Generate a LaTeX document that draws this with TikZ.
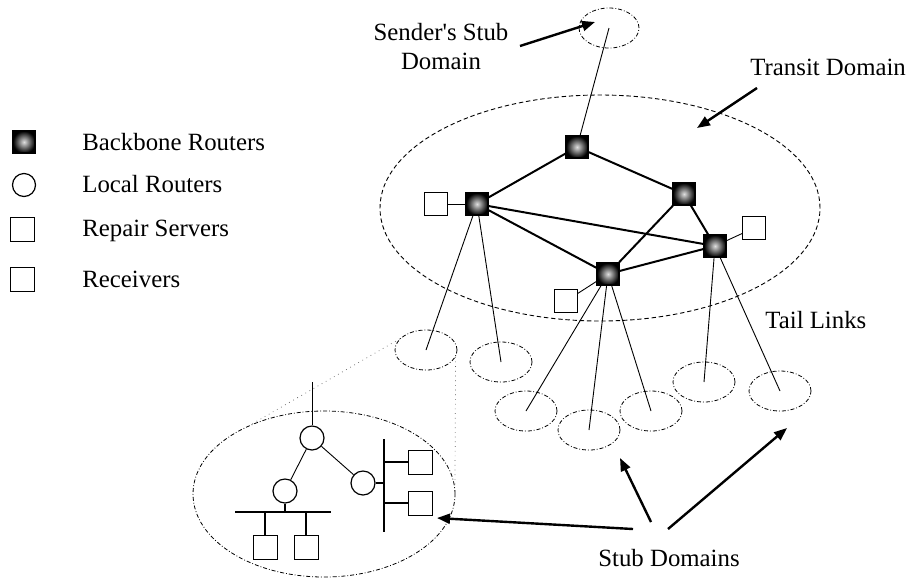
\documentclass[tikz,border=0pt]{standalone}
\usepackage{fontspec}
\setmainfont{Liberation Serif}
\usetikzlibrary{shapes.geometric,arrows.meta}
\tikzset{
  backbone/.style={rectangle, draw=black, line width=0.7pt, minimum size=11pt, inner sep=0pt, inner color=gray!25, outer color=black},
  local/.style={circle, draw, line width=0.6pt, minimum size=12pt, inner sep=0pt, fill=white},
  server/.style={rectangle, draw, line width=0.5pt, minimum size=11.5pt, inner sep=0pt, fill=white},
  stub/.style={ellipse, draw, line width=0.4pt, dash pattern=on 2pt off 1pt on 0.4pt off 1pt, minimum width=31pt, minimum height=20pt, inner sep=0pt},
  transit/.style={ellipse, draw, line width=0.45pt, dash pattern=on 2.2pt off 1.4pt, minimum width=220pt, minimum height=113pt, inner sep=0pt},
  bbedge/.style={line width=1pt},
  tail/.style={line width=0.45pt},
  bus/.style={line width=0.6pt},
  proj/.style={line width=0.35pt, dotted, gray!70!black},
  pointer/.style={line width=1.2pt, -{Triangle[length=6.5pt,width=5pt]}},
  lbl/.style={font=\fontsize{12.4}{14.5}\selectfont, inner sep=0pt}
}
\begin{document}
\begin{tikzpicture}[x=0.5pt, y=-0.5pt]
    \useasboundingbox (0,0) rectangle (908,579);

    % Legend
    \node[backbone] (keybb) at (24,142) {};
    \node[local, minimum size=11.5pt] (keylr) at (24,185) {};
    \node[server, minimum size=12pt] (keyrs) at (22,229) {};
    \node[server, minimum size=12pt] (keyrc) at (22,279) {};
    \node[lbl, anchor=base west] (keybbtxt) at (82,150) {Backbone Routers};
    \node[lbl, anchor=base west] (keylrtxt) at (82,192) {Local Routers};
    \node[lbl, anchor=base west] (keyrstxt) at (82,236) {Repair Servers};
    \node[lbl, anchor=base west] (keyrctxt) at (82,287) {Receivers};

    % Domains
    \node[transit] (transit) at (600,208) {};
    \node[stub, minimum width=30pt] (sender) at (609,28) {};
    \node[stub] (s1) at (426,350) {};
    \node[stub] (s2) at (501,362) {};
    \node[stub] (s3) at (526,411) {};
    \node[stub] (s4) at (589,430) {};
    \node[stub] (s5) at (651,411) {};
    \node[stub] (s6) at (704,382) {};
    \node[stub] (s7) at (780,391) {};
    \node[stub, minimum width=131pt, minimum height=83pt] (zoom) at (324,494) {};

    % Backbone routers and repair servers
    \node[backbone] (r1) at (577,147) {};
    \node[backbone] (r2) at (477,204) {};
    \node[backbone] (r3) at (684,194) {};
    \node[backbone] (r4) at (715,246) {};
    \node[backbone] (r5) at (608,274) {};
    \node[server] (rs2) at (436,204) {};
    \node[server] (rs4) at (754,228) {};
    \node[server] (rs5) at (566,301) {};

    % Backbone edges
    \draw[bbedge] (r1) -- (r2);
    \draw[bbedge] (r1) -- (r3);
    \draw[bbedge] (r2) -- (r4);
    \draw[bbedge] (r2) -- (r5);
    \draw[bbedge] (r3) -- (r5);
    \draw[bbedge] (r3) -- (r4);
    \draw[bbedge] (r5) -- (r4);
    \draw[tail] (rs2) -- (r2);
    \draw[tail] (rs4) -- (r4);
    \draw[tail] (rs5) -- (r5);

    % Tail links
    \draw[tail] (sender.center) -- (r1);
    \draw[tail] (r2) -- (s1.center);
    \draw[tail] (r2) -- (s2.center);
    \draw[tail] (r5) -- (s3.center);
    \draw[tail] (r5) -- (s4.center);
    \draw[tail] (r5) -- (s5.center);
    \draw[tail] (r4) -- (s6.center);
    \draw[tail] (r4) -- (s7.center);

    % Close-up of one stub domain
    \draw[proj] (s1.157) -- (zoom.137);
    \draw[proj] (s1.-13) -- (zoom.3);
    \node[local] (l1) at (312,438) {};
    \node[local] (l2) at (285,491) {};
    \node[local] (l3) at (363,483) {};
    \coordinate (up) at (312,382);
    \draw[tail] (l1) -- (up);
    \draw[tail] (l1) -- (l2);
    \draw[tail] (l1) -- (l3);
    % horizontal LAN with two receivers
    \coordinate (busa1) at (235,512);
    \coordinate (busa2) at (331,512);
    \coordinate (taa) at (265,512);
    \coordinate (tab) at (306,512);
    \node[server, minimum size=12pt] (rca) at (265,547) {};
    \node[server, minimum size=12pt] (rcb) at (306,547) {};
    \draw[bus] (busa1) -- (busa2);
    \draw[bus] (l2) -- (l2 |- busa1);
    \draw[bus] (taa) -- (rca);
    \draw[bus] (tab) -- (rcb);
    % vertical LAN with two receivers
    \coordinate (busb1) at (384,439);
    \coordinate (busb2) at (384,532);
    \coordinate (tba) at (384,462);
    \coordinate (tbb) at (384,503);
    \node[server, minimum size=12pt] (rcc) at (420,462) {};
    \node[server, minimum size=12pt] (rcd) at (420,503) {};
    \draw[bus] (busb1) -- (busb2);
    \draw[bus] (l3) -- (l3 -| busb1);
    \draw[bus] (tba) -- (rcc);
    \draw[bus] (tbb) -- (rcd);

    % Labels and pointers
    \node[lbl, align=center] (sendertxt) at (441,47) {Sender\textquotesingle s Stub\\Domain};
    \node[lbl, anchor=base west] (transittxt) at (750,75) {Transit Domain};
    \node[lbl, anchor=base west] (tailtxt) at (765,328) {Tail Links};
    \node[lbl, anchor=base west] (stubtxt) at (598,566) {Stub Domains};
    \coordinate (pa) at (520,46);   \coordinate (pat) at (595,22);
    \coordinate (pb) at (757,88);   \coordinate (pbt) at (697,128);
    \coordinate (pc) at (633,529);  \coordinate (pct) at (437,518);
    \coordinate (pd) at (651,522);  \coordinate (pdt) at (620,458);
    \coordinate (pe) at (668,529);  \coordinate (pet) at (787,428);
    \draw[pointer] (pa) -- (pat);
    \draw[pointer] (pb) -- (pbt);
    \draw[pointer] (pc) -- (pct);
    \draw[pointer] (pd) -- (pdt);
    \draw[pointer] (pe) -- (pet);
\end{tikzpicture}
\end{document}
